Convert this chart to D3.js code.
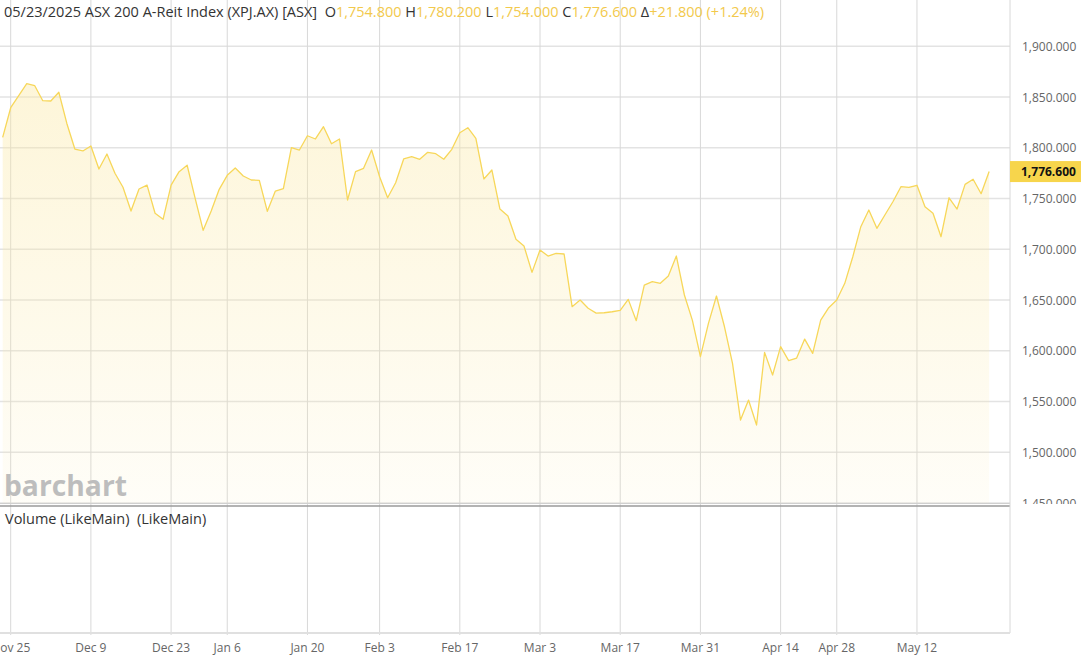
<!DOCTYPE html>
<html><head><meta charset="utf-8">
<script src="https://cdn.jsdelivr.net/npm/d3@7/dist/d3.min.js"></script>
<style>
html,body{margin:0;padding:0;background:#fff;}
svg{display:block;font-family:"Open Sans",sans-serif;}
</style></head>
<body><svg id="c" width="1081" height="661"></svg>
<script>
const dates = ("2024-11-22 2024-11-25 2024-11-26 2024-11-27 2024-11-28 2024-11-29 " +
"2024-12-02 2024-12-03 2024-12-04 2024-12-05 2024-12-06 2024-12-09 2024-12-10 2024-12-11 2024-12-12 2024-12-13 " +
"2024-12-16 2024-12-17 2024-12-18 2024-12-19 2024-12-20 2024-12-23 2024-12-24 2024-12-27 2024-12-30 2024-12-31 " +
"2025-01-02 2025-01-03 2025-01-06 2025-01-07 2025-01-08 2025-01-09 2025-01-10 2025-01-13 2025-01-14 2025-01-15 " +
"2025-01-16 2025-01-17 2025-01-20 2025-01-21 2025-01-22 2025-01-23 2025-01-24 2025-01-28 2025-01-29 2025-01-30 2025-01-31 " +
"2025-02-03 2025-02-04 2025-02-05 2025-02-06 2025-02-07 2025-02-10 2025-02-11 2025-02-12 2025-02-13 2025-02-14 " +
"2025-02-17 2025-02-18 2025-02-19 2025-02-20 2025-02-21 2025-02-24 2025-02-25 2025-02-26 2025-02-27 2025-02-28 " +
"2025-03-03 2025-03-04 2025-03-05 2025-03-06 2025-03-07 2025-03-10 2025-03-11 2025-03-12 2025-03-13 2025-03-14 " +
"2025-03-17 2025-03-18 2025-03-19 2025-03-20 2025-03-21 2025-03-24 2025-03-25 2025-03-26 2025-03-27 2025-03-28 2025-03-31 " +
"2025-04-01 2025-04-02 2025-04-03 2025-04-04 2025-04-07 2025-04-08 2025-04-09 2025-04-10 2025-04-11 " +
"2025-04-14 2025-04-15 2025-04-16 2025-04-17 2025-04-22 2025-04-23 2025-04-24 2025-04-28 2025-04-29 2025-04-30 " +
"2025-05-01 2025-05-02 2025-05-05 2025-05-06 2025-05-07 2025-05-08 2025-05-09 2025-05-12 2025-05-13 2025-05-14 " +
"2025-05-15 2025-05-16 2025-05-19 2025-05-20 2025-05-21 2025-05-22 2025-05-23").split(" ");

const closes = [
1810.3,1839.5,1851.3,1863.2,1861.2,1846.4,1846.1,1854.7,1824.0,1798.8,
1796.9,1801.8,1779.1,1793.9,1774.9,1761.1,1737.7,1759.4,1763.3,1735.5,
1729.6,1763.3,1776.5,1782.8,1750.2,1718.7,1737.7,1759.1,1772.9,1780.1,
1772.2,1768.3,1768.0,1737.4,1757.4,1759.7,1800.1,1797.8,1811.9,1808.7,
1820.8,1804.0,1808.7,1748.6,1776.5,1779.8,1797.8,1771.5,1750.8,1765.6,
1789.0,1791.2,1788.7,1795.6,1794.2,1788.7,1798.5,1814.9,1819.8,1809.4,
1769.3,1778.1,1739.7,1732.8,1709.9,1703.3,1677.3,1699.3,1693.4,1696.0,
1695.4,1643.5,1650.0,1641.9,1637.2,1637.5,1638.5,1639.9,1650.7,1629.7,
1664.8,1668.1,1666.5,1673.7,1693.4,1655.0,1630.0,1594.2,1627.1,1654.0,
1623.7,1587.7,1531.8,1551.5,1526.9,1598.5,1576.2,1604.1,1590.3,1592.9,
1611.6,1597.5,1630.3,1642.5,1650.0,1666.5,1692.7,1722.3,1738.7,1720.7,
1733.8,1746.9,1761.7,1761.1,1763.1,1742.0,1735.5,1712.4,1750.8,1739.7,
1764.0,1769.0,1754.8,1776.6];

const tickDates = ["2024-11-25","2024-12-09","2024-12-23","2025-01-06","2025-01-20","2025-02-03","2025-02-17","2025-03-03","2025-03-17","2025-03-31","2025-04-14","2025-04-28","2025-05-12"];
const tickLabels = ["Nov 25","Dec 9","Dec 23","Jan 6","Jan 20","Feb 3","Feb 17","Mar 3","Mar 17","Mar 31","Apr 14","Apr 28","May 12"];
const yTicks = [1450,1500,1550,1600,1650,1700,1750,1800,1850,1900];

const header = {date:"05/23/2025", name:"ASX 200 A-Reit Index (XPJ.AX) [ASX]", open:"1,754.800", high:"1,780.200", low:"1,754.000", close:"1,776.600", change:"+21.800 (+1.24%)"};
const lastValue = closes[closes.length-1];

const svg = d3.select("#c");
const W = 1081, H = 661;
const axisX = 1010, paneBottom = 505, volBottom = 633;
const gold = "#f2c94c";

const x = d3.scalePoint().domain(dates).range([2.68, 989.14]);
const y = d3.scaleLinear().domain([1450, 1900]).range([503.1, 46.3]);

const defs = svg.append("defs");
const grad = defs.append("linearGradient").attr("id","fillg")
  .attr("gradientUnits","userSpaceOnUse").attr("x1",0).attr("x2",0).attr("y1",60).attr("y2",paneBottom);
grad.append("stop").attr("offset","0").attr("stop-color","#fbe9a6").attr("stop-opacity",0.45);
grad.append("stop").attr("offset","1").attr("stop-color","#fbe9a6").attr("stop-opacity",0.08);
defs.append("clipPath").attr("id","paneclip").append("rect").attr("x",0).attr("y",0).attr("width",W).attr("height",paneBottom-1);

// horizontal gridlines
svg.append("g").selectAll("line").data(yTicks).join("line")
  .attr("x1",0).attr("x2",axisX).attr("y1",d=>y(d)).attr("y2",d=>y(d))
  .attr("stroke","#e3e3e3").attr("stroke-width",1.5);

// vertical gridlines
svg.append("g").selectAll("line").data(tickDates).join("line")
  .attr("x1",d=>x(d)).attr("x2",d=>x(d)).attr("y1",0).attr("y2",volBottom+2)
  .attr("stroke","#d8d8d8").attr("stroke-width",1);

// area + line
const g = svg.append("g").attr("clip-path","url(#paneclip)");
g.append("path").datum(closes)
  .attr("d", d3.area().x((d,i)=>x(dates[i])).y0(paneBottom).y1(d=>y(d)))
  .attr("fill","url(#fillg)");
g.append("path").datum(closes)
  .attr("d", d3.line().x((d,i)=>x(dates[i])).y(d=>y(d)))
  .attr("fill","none").attr("stroke","#f7d75a").attr("stroke-width",1.3).attr("stroke-linejoin","round");

// pane divider
svg.append("line").attr("x1",0).attr("x2",axisX).attr("y1",paneBottom-1.5).attr("y2",paneBottom-1.5).attr("stroke","#d0d0d0").attr("stroke-width",1);
svg.append("line").attr("x1",0).attr("x2",axisX).attr("y1",paneBottom+1).attr("y2",paneBottom+1).attr("stroke","#9a9a9a").attr("stroke-width",1.5);

// right axis line
svg.append("line").attr("x1",axisX).attr("x2",axisX).attr("y1",0).attr("y2",volBottom).attr("stroke","#d8d8d8").attr("stroke-width",1);
// bottom axis line
svg.append("line").attr("x1",0).attr("x2",axisX).attr("y1",volBottom).attr("y2",volBottom).attr("stroke","#e0e0e0").attr("stroke-width",2);

// right axis labels
const yAxisG = svg.append("g").attr("clip-path","url(#paneclip)");
yAxisG.selectAll("text").data(yTicks).join("text")
  .attr("x",1022).attr("y",d=>y(d)+4.5)
  .attr("font-size",12).attr("fill","#666")
  .text(d=>d3.format(",.3f")(d));

// last value box
svg.append("rect").attr("x",axisX).attr("y",y(lastValue)-10.5).attr("width",W-axisX).attr("height",21).attr("fill","#f7d54c");
svg.append("text").attr("x",1021).attr("y",y(lastValue)+4.5).attr("font-size",12).attr("font-weight","bold").attr("fill","#111")
  .text(d3.format(",.3f")(lastValue));

// bottom axis labels
svg.append("g").selectAll("text").data(tickDates).join("text")
  .attr("x",d=>x(d)).attr("y",652).attr("text-anchor","middle")
  .attr("font-size",12).attr("fill","#666")
  .text((d,i)=>tickLabels[i]);

// header
const ht = svg.append("text").attr("x",4).attr("y",17).attr("font-size",14.5).attr("fill","#333").attr("xml:space","preserve");
ht.append("tspan").text(header.date + " " + header.name + "  ");
const parts = [["O",header.open],["H",header.high],["L",header.low],["C",header.close],["\u0394",header.change]];
parts.forEach((p,i)=>{
  ht.append("tspan").attr("fill","#333").text((i? " ":"") + p[0]);
  ht.append("tspan").attr("fill",gold).text(p[1]);
});

// logo
svg.append("text").attr("x",4).attr("y",496).attr("font-size",29).attr("font-weight","bold").attr("fill","#bdbdbd")
  .attr("textLength",123).attr("lengthAdjust","spacingAndGlyphs").text("barchart");

// volume label
svg.append("text").attr("x",5).attr("y",524).attr("font-size",14.5).attr("fill","#333").attr("xml:space","preserve")
  .text("Volume (LikeMain)  (LikeMain)");
</script>
</body></html>
